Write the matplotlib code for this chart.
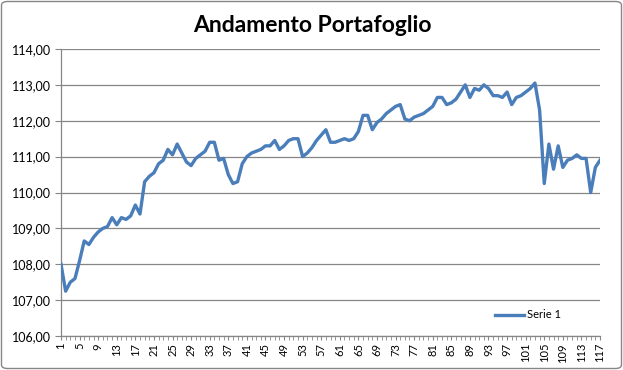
import matplotlib
matplotlib.use("Agg")
import matplotlib.pyplot as plt
from matplotlib.patches import FancyBboxPatch
from matplotlib.ticker import FixedLocator, FuncFormatter

title = "Andamento Portafoglio"
series_name = "Serie 1"
values = [
    108.0, 107.25, 107.5, 107.6, 108.1, 108.65, 108.55, 108.75, 108.9, 109.0,
    109.05, 109.3, 109.1, 109.3, 109.25, 109.35, 109.65, 109.4, 110.3, 110.45,
    110.55, 110.8, 110.9, 111.2, 111.05, 111.35, 111.1, 110.85, 110.75, 110.95,
    111.05, 111.15, 111.4, 111.4, 110.9, 110.95, 110.5, 110.25, 110.3, 110.8,
    111.0, 111.1, 111.15, 111.2, 111.3, 111.3, 111.45, 111.2, 111.3, 111.45,
    111.5, 111.5, 111.0, 111.1, 111.25, 111.45, 111.6, 111.75, 111.4, 111.4,
    111.45, 111.5, 111.45, 111.5, 111.7, 112.15, 112.15, 111.75, 111.95, 112.05,
    112.2, 112.3, 112.4, 112.45, 112.05, 112.0, 112.1, 112.15, 112.2, 112.3,
    112.4, 112.65, 112.65, 112.45, 112.5, 112.6, 112.8, 113.0, 112.65, 112.9,
    112.85, 113.0, 112.9, 112.7, 112.7, 112.65, 112.8, 112.45, 112.65, 112.7,
    112.8, 112.9, 113.05, 112.3, 110.25, 111.35, 110.65, 111.3, 110.7, 110.9,
    110.95, 111.05, 110.95, 110.95, 110.0, 110.7, 110.9,
]
x_labels = list(range(1, len(values) + 1, 4))
y_ticks = [106, 107, 108, 109, 110, 111, 112, 113, 114]

plt.rcParams['font.family'] = ['Lato', 'DejaVu Sans']

fig = plt.figure(figsize=(6.23, 3.70), dpi=100)
W, H = 623, 370
ax = fig.add_axes([61 / W, 1 - 336 / H, (600 - 61) / W, (336 - 49) / H])

xs = list(range(1, len(values) + 1))
line, = ax.plot(xs, values, color='#4A7EBB', lw=2.4, solid_joinstyle='round',
                label=series_name, zorder=3)

ax.set_xlim(1, len(values))
ax.set_ylim(106, 114)
ax.set_yticks(y_ticks)
ax.yaxis.set_major_formatter(FuncFormatter(lambda v, p: f"{v:.2f}".replace('.', ',')))
ax.set_xticks(x_labels)
ax.set_xticklabels([str(v) for v in x_labels], rotation=90, fontsize=8)
ax.xaxis.set_minor_locator(FixedLocator(xs))
ax.tick_params(axis='x', which='both', direction='out', length=3, color='#868686', pad=2)
ax.tick_params(axis='y', direction='out', length=4, color='#868686', labelsize=9, pad=3)

ax.grid(axis='y', color='#868686', lw=0.9)
ax.set_axisbelow(True)
for s in ['top', 'right']:
    ax.spines[s].set_visible(False)
for s in ['left', 'bottom']:
    ax.spines[s].set_color('#868686')
    ax.spines[s].set_linewidth(0.9)

fig.text(312 / W, 1 - 26 / H, title, ha='center', va='center',
         fontsize=16.5, fontweight='bold')

leg = ax.legend(handles=[line], loc='center', bbox_to_anchor=(528 / W, 1 - 315 / H),
                bbox_transform=fig.transFigure, frameon=False, fontsize=8,
                handlelength=2.6, handletextpad=0.3)

border = FancyBboxPatch((1.5 / W, 1.5 / H), (W - 3) / W, (H - 3) / H,
                        boxstyle='round,pad=0,rounding_size=0.01',
                        transform=fig.transFigure, fill=False,
                        edgecolor='#868686', lw=1.0)
fig.patches.append(border)

fig.savefig('out.png', dpi=100)
